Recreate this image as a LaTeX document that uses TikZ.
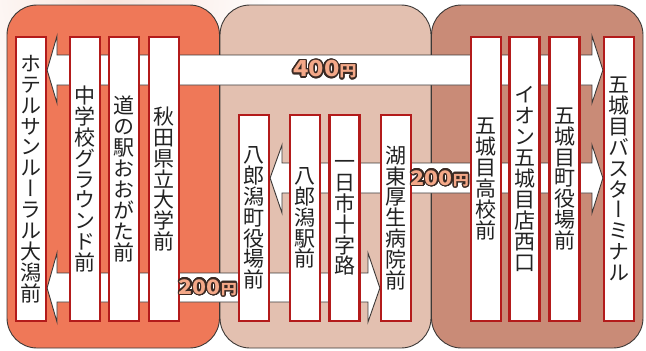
\documentclass[tikz,border=0pt]{standalone}
\usepackage{fontspec}
\usepackage{contour}
\contourlength{1.3pt}
\contournumber{24}
\newfontfamily\jpv{Noto Sans CJK JP}[RawFeature=+vert]
\newfontfamily\farefont{Noto Sans CJK JP}[FakeStretch=1.15]
\definecolor{regline}{HTML}{3C3836}
\definecolor{leftreg}{HTML}{EF7858}
\definecolor{midreg}{HTML}{E3C0B0}
\definecolor{rightreg}{HTML}{C98B77}
\definecolor{boxred}{HTML}{B31B1B}
\definecolor{farefill}{HTML}{F4A888}
\definecolor{fareline}{HTML}{3A2A24}
\definecolor{stoptext}{HTML}{222222}
\definecolor{glow}{HTML}{F8E4DC}
\pgfdeclarelayer{bg}
\pgfdeclarelayer{bandlayer}
\pgfsetlayers{bg,bandlayer,main}
\begin{document}
\begin{tikzpicture}[x=1pt,y=-1pt,
  region/.style={draw=regline, line width=0.9pt, rounded corners=30pt},
  stopbox/.style={draw=boxred, fill=white, line width=2.2pt, minimum width=30pt, inner sep=0pt,
    align=center, text=stoptext, font=\jpv\fontsize{21}{20.9}\selectfont},
  full/.style={minimum height=283.8pt},
  short/.style={minimum height=205.8pt},
  band/.style={draw=regline, fill=white, line width=0.9pt, line join=miter},
  fare/.style={inner sep=0pt, text=farefill, font=\farefont\bfseries\fontsize{22}{22}\selectfont},
  faresmall/.style={fare, font=\farefont\bfseries\fontsize{20}{20}\selectfont}
]
\useasboundingbox (0,0) rectangle (646,351);
\begin{pgfonlayer}{bg}
\fill[white] (0,0) rectangle (646,351);
\begin{scope}
\clip (0,0) rectangle (646,351);
\shade[inner color=glow, outer color=white] (110,-10) circle (170pt);
\end{scope}
\draw[region, fill=leftreg] (7,5) rectangle (219.5,348);
\draw[region, fill=midreg] (220,5) rectangle (431,348);
\draw[region, fill=rightreg] (431.5,5) rectangle (643,348);
\end{pgfonlayer}

% stops
\node[stopbox,full] (hotel) at (31,179) {ホ\\テ\\ル\\サ\\ン\\ル\\ー\\ラ\\ル\\大\\潟\\前};
\node[stopbox,full] (chugaku) at (85,179) {中\\学\\校\\グ\\ラ\\ウ\\ン\\ド\\前};
\node[stopbox,full] (michi) at (124,179) {道\\の\\駅\\お\\お\\が\\た\\前};
\node[stopbox,full] (kendai) at (164,179) {秋\\田\\県\\立\\大\\学\\前};
\node[stopbox,short] (hachiyaku) at (254,218) {八\\郎\\潟\\町\\役\\場\\前};
\node[stopbox,short] (hachieki) at (305,218) {八\\郎\\潟\\駅\\前};
\node[stopbox,short] (hitoichi) at (344.5,218) {一\\日\\市\\十\\字\\路};
\node[stopbox,short] (koto) at (396,218) {湖\\東\\厚\\生\\病\\院\\前};
\node[stopbox,full] (gokou) at (486,179) {五\\城\\目\\高\\校\\前};
\node[stopbox,full] (aeon) at (524.5,179) {イ\\オ\\ン\\五\\城\\目\\店\\西\\口};
\node[stopbox,full] (gyakuba) at (564.5,179) {五\\城\\目\\町\\役\\場\\前};
\node[stopbox,full] (terminal) at (619,179) {五\\城\\目\\バ\\ス\\タ\\ー\\ミ\\ナ\\ル};

\coordinate (ytop) at (0,70);
\coordinate (ymid) at (0,178);
\coordinate (ybot) at (0,288);

\begin{pgfonlayer}{bandlayer}
% 400 yen band: hotel <-> terminal
\draw[band] (hotel.east |- ytop) -- (57,36) -- (57,55) -- (592,55) -- (592,36)
  -- (terminal.west |- ytop) -- (592,103) -- (592,85) -- (57,85) -- (57,103) -- cycle;
% 200 yen band: hachirogata town office <-> terminal
\draw[band] (hachiyaku.east |- ymid) -- (282,145) -- (282,163) -- (592,163) -- (592,145)
  -- (terminal.west |- ymid) -- (592,213) -- (592,193) -- (282,193) -- (282,213) -- cycle;
% 200 yen band: hotel <-> koto hospital
\draw[band] (hotel.east |- ybot) -- (57,253) -- (57,273) -- (368,273) -- (368,253)
  -- (koto.west |- ybot) -- (368,322) -- (368,302) -- (57,302) -- (57,322) -- cycle;
\end{pgfonlayer}

% fares
\node[fare] (f400) at (325,70) {\contour{fareline}{400{\fontsize{15}{15}\selectfont 円}}};
\node[faresmall] (f200a) at (440,179) {\contour{fareline}{200{\fontsize{14}{14}\selectfont 円}}};
\node[faresmall] (f200b) at (208,288) {\contour{fareline}{200{\fontsize{14}{14}\selectfont 円}}};
\end{tikzpicture}
\end{document}
